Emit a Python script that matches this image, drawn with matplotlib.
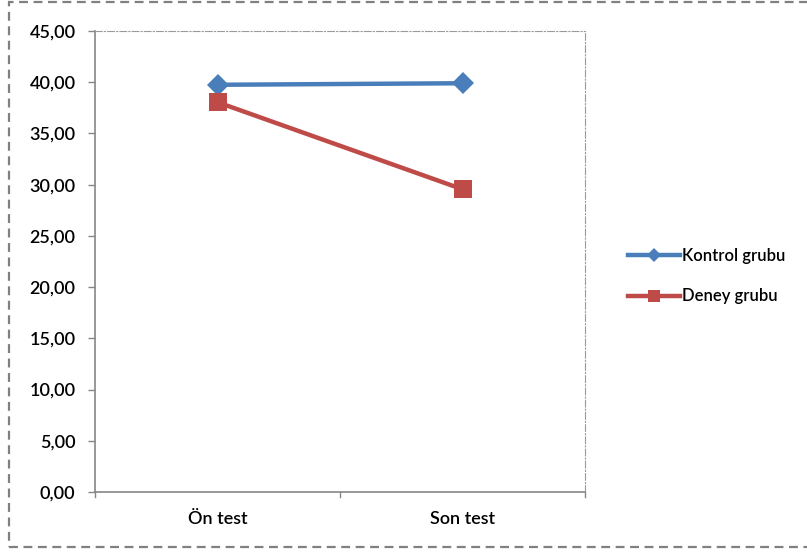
import matplotlib

matplotlib.use("Agg")

import matplotlib.pyplot as plt  # noqa: E402
from matplotlib.lines import Line2D  # noqa: E402
from matplotlib.patches import Rectangle  # noqa: E402

categories = ["Ön test", "Son test"]
kontrol = [39.75, 39.9]
deney = [38.05, 29.55]
series_names = ["Kontrol grubu", "Deney grubu"]
y_ticks = [0, 5, 10, 15, 20, 25, 30, 35, 40, 45]

BLUE = "#4A7EBB"
RED = "#BE4B48"
AXIS = "#868686"

plt.rcParams["font.family"] = ["Lato", "DejaVu Sans"]
plt.rcParams["font.weight"] = "semibold"

W, H = 807, 554
fig = plt.figure(figsize=(W / 100, H / 100), dpi=100)
ax = fig.add_axes([95 / W, 1 - 492 / H, (585 - 95) / W, (492 - 31) / H])

x = [0.5, 1.5]
ax.plot(x, kontrol, color=BLUE, linewidth=3.2, marker="D", markersize=11,
        markeredgewidth=0, solid_capstyle="round", zorder=3)
ax.plot(x, deney, color=RED, linewidth=3.2, marker="s", markersize=13,
        markeredgewidth=0, solid_capstyle="round", zorder=3)

ax.set_xlim(0, 2)
ax.set_ylim(0, 45)
ax.set_yticks(y_ticks)
ax.set_yticklabels([f"{v:.2f}".replace(".", ",") for v in y_ticks])
ax.set_xticks([0, 1, 2])
ax.set_xticklabels([])
ax.set_xticks(x, minor=True)
ax.set_xticklabels(categories, minor=True)
ax.tick_params(axis="x", which="minor", length=0, pad=14, labelsize=13)
ax.tick_params(axis="x", which="major", direction="in", length=0)
ax.tick_params(axis="y", direction="out", length=5, color=AXIS, width=1,
               labelsize=13, pad=9)

# bottom axis ticks hang below the line, between categories
for xv in [0, 1, 2]:
    ax.plot([xv, xv], [0, -0.5], color=AXIS, linewidth=1, clip_on=False)

for side in ["left", "bottom"]:
    ax.spines[side].set_color(AXIS)
    ax.spines[side].set_linewidth(1.2)
for side in ["top", "right"]:
    ax.spines[side].set_color("#9A9A9A")
    ax.spines[side].set_linewidth(0.8)
    ax.spines[side].set_linestyle((0, (6, 2, 1, 2)))

handles = [
    Line2D([], [], color=BLUE, linewidth=3.2, marker="D", markersize=7,
           markeredgewidth=0),
    Line2D([], [], color=RED, linewidth=3.2, marker="s", markersize=9,
           markeredgewidth=0),
]
fig.legend(handles, series_names, loc="center left",
           bbox_to_anchor=(613 / W, 1 - 276 / H), frameon=False,
           fontsize=12, handlelength=3.1, handletextpad=0.15,
           labelspacing=1.5)

# dashed frame around the whole chart
fig.patches.append(Rectangle((9 / W, 1 - 547 / H), (W + 10) / W, (545) / H,
                             transform=fig.transFigure, fill=False,
                             edgecolor="#808080", linewidth=1.6,
                             linestyle=(0, (4, 2.5)), clip_on=False))

fig.savefig("out.png", dpi=100)
